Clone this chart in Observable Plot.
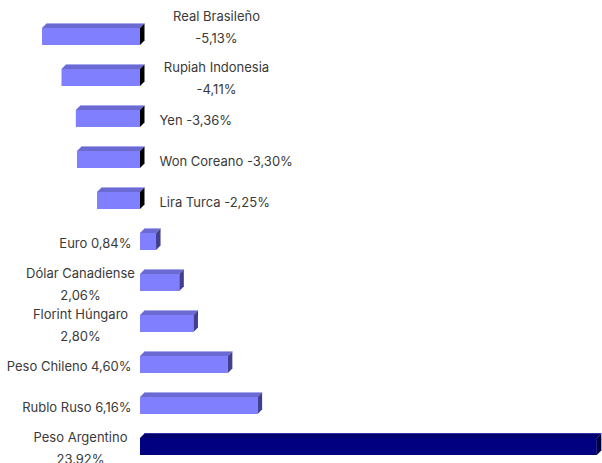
<!DOCTYPE html>
<html><head><meta charset="utf-8">
<script src="https://cdn.jsdelivr.net/npm/d3@7"></script>
<script src="https://cdn.jsdelivr.net/npm/@observablehq/plot@0.6"></script>
<style>body{margin:0;background:#fff;} #chart svg{display:block;}</style>
</head><body><div id="chart"></div>
<script>
const currencies = ["Real Brasileño", "Rupiah Indonesia", "Yen", "Won Coreano", "Lira Turca", "Euro", "Dólar Canadiense", "Florint Húngaro", "Peso Chileno", "Rublo Ruso", "Peso Argentino"];
const changes = [-5.13, -4.11, -3.36, -3.30, -2.25, 0.84, 2.06, 2.80, 4.60, 6.16, 23.92];
const labels = ["Real Brasileño\n-5,13%", "Rupiah Indonesia\n-4,11%", "Yen -3,36%", "Won Coreano -3,30%", "Lira Turca -2,25%", "Euro 0,84%", "Dólar Canadiense\n2,06%", "Florint Húngaro\n2,80%", "Peso Chileno 4,60%", "Rublo Ruso 6,16%", "Peso Argentino\n23.92%"];
const highlight = "Peso Argentino";

const data = currencies.map((c, i) => ({name: c, value: changes[i], label: labels[i], hi: c === highlight, multi: labels[i].includes("\n"), first: i === 0}));

const depth = 4.5;
function faces(index, scales) {
  const {x, y} = scales;
  const bw = y.bandwidth();
  const g = d3.create("svg:g");
  for (const r of data) {
    const x0 = x(Math.min(0, r.value)), x1 = x(Math.max(0, r.value));
    const yt = y(r.name);
    const topFill = r.hi ? "#00006e" : "#6a6ad2";
    const sideFill = r.hi ? "#00003c" : (r.value < 0 ? "#000000" : "#40408f");
    g.append("path")
      .attr("d", `M${x0},${yt}L${x0 + depth},${yt - depth}L${x1 + depth},${yt - depth}L${x1},${yt}Z`)
      .attr("fill", topFill);
    g.append("path")
      .attr("d", `M${x0 + depth},${yt - depth}L${x1 + depth},${yt - depth}`)
      .attr("stroke", r.hi ? "#3030a0" : "#a8a8f0").attr("stroke-width", 1);
    g.append("path")
      .attr("d", `M${x1},${yt}L${x1 + depth},${yt - depth}L${x1 + depth},${yt + bw - depth}L${x1},${yt + bw}Z`)
      .attr("fill", sideFill);
  }
  return g.node();
}

const textBase = {y: "name", text: "label", fontSize: 13, fill: "#3a3a3a", lineHeight: 1.66};

const chart = Plot.plot({
  width: 602,
  height: 463,
  marginLeft: 0, marginRight: 0, marginTop: 0, marginBottom: 0,
  style: {fontFamily: "Inter", background: "#fff"},
  x: {domain: [-7.33, 24.19], axis: null},
  y: {domain: currencies, range: [15.2, 466.9], paddingInner: 0.585, paddingOuter: 0.2925, axis: null},
  marks: [
    Plot.barX(data, {y: "name", x1: d => 0, x2: "value", fill: d => d.hi ? "#000080" : "#8080ff"}),
    faces,
    Plot.text(data, {...textBase, filter: d => d.value < 0 && !d.multi, x: d => 0, textAnchor: "start", dx: 19, dy: -1}),
    Plot.text(data, {...textBase, filter: d => d.value < 0 && d.multi && !d.first, x: d => 0, textAnchor: "middle", dx: 76, dy: -2}),
    Plot.text(data, {...textBase, filter: d => d.value < 0 && d.multi && d.first, x: d => 0, textAnchor: "middle", dx: 76, dy: -12}),
    Plot.text(data, {...textBase, filter: d => d.value >= 0 && !d.multi, x: d => 0, textAnchor: "end", dx: -9, dy: -1}),
    Plot.text(data, {...textBase, filter: d => d.value >= 0 && d.multi, x: d => 0, textAnchor: "middle", dx: -60, dy: -1})
  ]
});
document.getElementById("chart").append(chart);
</script>
</body></html>
